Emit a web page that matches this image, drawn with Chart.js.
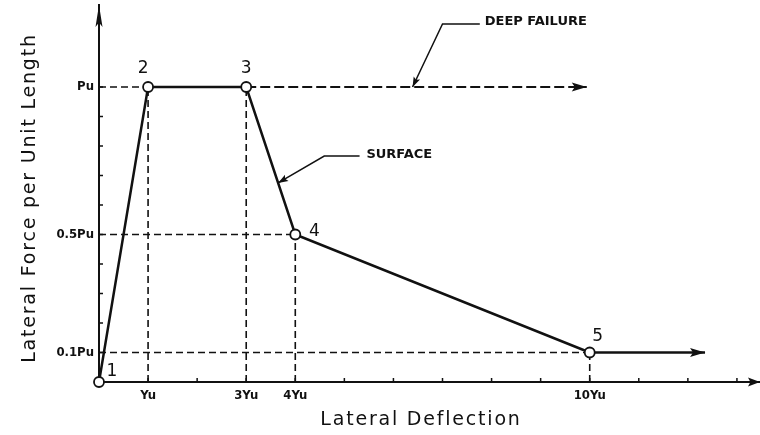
<!DOCTYPE html>
<html>
<head>
<meta charset="utf-8">
<title>Lateral Force vs Lateral Deflection</title>
<script src="https://cdn.jsdelivr.net/npm/chart.js@4.4.1/dist/chart.umd.min.js"></script>
<style>
  html, body { margin: 0; padding: 0; background: #fff; }
</style>
</head>
<body>
<canvas id="pyCurve" width="760" height="435"></canvas>
<script>
// p-y curve: deflection in multiples of Yu, force in multiples of Pu
const deflection = [0, 1, 3, 4, 10];
const force = [0, 1, 1, 0.5, 0.1];
const pointNames = ["1", "2", "3", "4", "5"];

// residual branch after point 5, deep failure plateau after point 3
const residualDeflection = [10, 12.35];
const residualForce = [0.1, 0.1];
const deepDeflection = [3, 9.94];
const deepForce = [1, 1];

// labelled ticks
const xTickValues = [1, 3, 4, 10];
const xTickText = ["Yu", "3Yu", "4Yu", "10Yu"];
const yTickValues = [0.1, 0.5, 1];
const yTickText = ["0.1Pu", "0.5Pu", "Pu"];

const INK = "#111";
const DASH = [7, 4];
const TICK_FONT = '"DejaVu Sans Condensed", "Liberation Sans Narrow", "DejaVu Sans", sans-serif';
const TEXT_FONT = '"DejaVu Sans", sans-serif';

function toPoints(xs, ys) {
  return xs.map((x, i) => ({ x: x, y: ys[i] }));
}

function labelFor(values, texts, value) {
  const i = values.findIndex((v) => Math.abs(v - value) < 1e-6);
  return i >= 0 ? texts[i] : "";
}

// dashed guides from both axes to points 2..5
const guides = [];
for (let i = 1; i < deflection.length; i++) {
  if (i !== 2) {
    guides.push(toPoints([0, deflection[i]], [force[i], force[i]]));
  }
  guides.push(toPoints([deflection[i], deflection[i]], [0, force[i]]));
}

// leader lines for the two callouts (tip first)
const surfaceLeader = toPoints([3.65, 4.59, 5.31], [0.675, 0.766, 0.766]);
const deepLeader = toPoints([6.39, 7.0, 7.76], [1.0, 1.214, 1.214]);
const callouts = [
  { text: "SURFACE", x: 5.45, y: 0.77 },
  { text: "DEEP FAILURE", x: 7.86, y: 1.22 },
];

// where each point number sits relative to its circle (px)
const nameOffsets = [[13, -10], [-5, -18], [0, -18], [19, -3], [8, -16]];

const datasets = [
  {
    label: "curve",
    data: toPoints(deflection, force),
    showLine: true,
    borderColor: INK,
    borderWidth: 2.5,
    pointRadius: 5,
    pointBorderWidth: 1.8,
    pointBorderColor: INK,
    pointBackgroundColor: "#fff",
    clip: false,
  },
  {
    label: "residual",
    data: toPoints(residualDeflection, residualForce),
    showLine: true,
    borderColor: INK,
    borderWidth: 2.5,
    pointRadius: 0,
    arrowAt: "end",
    clip: false,
  },
  {
    label: "deep",
    data: toPoints(deepDeflection, deepForce),
    showLine: true,
    borderColor: INK,
    borderWidth: 2,
    borderDash: [10, 4],
    pointRadius: 0,
    arrowAt: "end",
    clip: false,
  },
  {
    label: "surfaceLeader",
    data: surfaceLeader,
    showLine: true,
    borderColor: INK,
    borderWidth: 1.5,
    pointRadius: 0,
    arrowAt: "start",
    clip: false,
  },
  {
    label: "deepLeader",
    data: deepLeader,
    showLine: true,
    borderColor: INK,
    borderWidth: 1.5,
    pointRadius: 0,
    arrowAt: "start",
    clip: false,
  },
].concat(
  guides.map((g) => ({
    label: "guide",
    data: g,
    showLine: true,
    borderColor: INK,
    borderWidth: 1.6,
    borderDash: DASH,
    pointRadius: 0,
    clip: false,
  }))
);

function arrowHead(ctx, fx, fy, tx, ty, len, half) {
  const a = Math.atan2(ty - fy, tx - fx);
  ctx.save();
  ctx.translate(tx, ty);
  ctx.rotate(a);
  ctx.beginPath();
  ctx.moveTo(0, 0);
  ctx.lineTo(-len, -half);
  ctx.lineTo(-len * 0.8, 0);
  ctx.lineTo(-len, half);
  ctx.closePath();
  ctx.fill();
  ctx.restore();
}

const sketchPlugin = {
  id: "sketch",
  beforeDatasetsDraw(chart) {
    const ctx = chart.ctx;
    const { left, bottom } = chart.chartArea;
    const xs = chart.scales.x;
    const ys = chart.scales.y;
    ctx.save();
    ctx.strokeStyle = INK;
    ctx.lineWidth = 1.5;
    ctx.beginPath();
    xs.ticks.forEach((t) => {
      const px = xs.getPixelForValue(t.value);
      ctx.moveTo(px, bottom);
      ctx.lineTo(px, bottom - 4);
    });
    ys.ticks.forEach((t) => {
      const py = ys.getPixelForValue(t.value);
      ctx.moveTo(left, py);
      ctx.lineTo(left + 4, py);
    });
    ctx.stroke();
    ctx.restore();
  },
  afterDatasetsDraw(chart) {
    const ctx = chart.ctx;
    const xs = chart.scales.x;
    const ys = chart.scales.y;
    ctx.save();
    ctx.fillStyle = INK;

    // arrowheads on flagged datasets
    chart.data.datasets.forEach((ds, i) => {
      if (!ds.arrowAt) return;
      const pts = chart.getDatasetMeta(i).data;
      const n = pts.length;
      if (ds.arrowAt === "end") {
        arrowHead(ctx, pts[n - 2].x, pts[n - 2].y, pts[n - 1].x, pts[n - 1].y, 15, 4.5);
      } else {
        arrowHead(ctx, pts[1].x, pts[1].y, pts[0].x, pts[0].y, 10, 3.5);
      }
    });

    // point numbers
    const curve = chart.getDatasetMeta(0).data;
    ctx.font = "17px " + TEXT_FONT;
    ctx.textAlign = "center";
    ctx.textBaseline = "middle";
    curve.forEach((p, i) => {
      ctx.fillText(pointNames[i], p.x + nameOffsets[i][0], p.y + nameOffsets[i][1]);
    });

    // callout texts
    ctx.font = "bold 13px " + TEXT_FONT;
    ctx.textAlign = "left";
    callouts.forEach((c) => {
      ctx.fillText(c.text, xs.getPixelForValue(c.x), ys.getPixelForValue(c.y));
    });
    ctx.restore();
  },
  afterDraw(chart) {
    const ctx = chart.ctx;
    const { left, right, top, bottom } = chart.chartArea;
    ctx.save();
    ctx.fillStyle = INK;
    // axis arrows
    arrowHead(ctx, left, bottom, left, top, 22, 3.5);
    arrowHead(ctx, left, bottom, right, bottom, 12, 4.5);

    // axis titles
    ctx.font = "19px " + TEXT_FONT;
    ctx.letterSpacing = "1.8px";
    ctx.textAlign = "center";
    ctx.textBaseline = "middle";
    ctx.fillText("Lateral Deflection", 421, 420);
    ctx.translate(30, 198);
    ctx.rotate(-Math.PI / 2);
    ctx.fillText("Lateral Force per Unit Length", 0, 0);
    ctx.restore();
  },
};

new Chart(document.getElementById("pyCurve"), {
  type: "scatter",
  data: { datasets: datasets },
  options: {
    responsive: false,
    devicePixelRatio: 1,
    animation: false,
    events: [],
    layout: { autoPadding: false, padding: { top: 5, right: 0, bottom: 0, left: 0 } },
    plugins: {
      legend: { display: false },
      tooltip: { enabled: false },
    },
    scales: {
      x: {
        type: "linear",
        min: 0,
        max: 13.47,
        afterBuildTicks: (scale) => {
          const ticks = [];
          for (let v = 1; v <= 13; v++) ticks.push({ value: v });
          scale.ticks = ticks;
        },
        afterFit: (scale) => {
          scale.height = 53;
          // axes run right to the canvas edge
          scale.paddingLeft = 0;
          scale.paddingRight = 0;
        },
        grid: { display: false, drawTicks: false },
        border: { display: true, color: INK, width: 2 },
        ticks: {
          autoSkip: false,
          maxRotation: 0,
          padding: 6,
          color: INK,
          font: { family: TICK_FONT, size: 13, weight: "bold" },
          callback: (value) => labelFor(xTickValues, xTickText, value),
        },
      },
      y: {
        type: "linear",
        min: 0,
        max: 1.278,
        afterBuildTicks: (scale) => {
          const ticks = [];
          for (let k = 1; k <= 10; k++) ticks.push({ value: k / 10 });
          scale.ticks = ticks;
        },
        afterFit: (scale) => {
          scale.width = 99;
          scale.paddingTop = 0;
          scale.paddingBottom = 0;
        },
        grid: { display: false, drawTicks: false },
        border: { display: true, color: INK, width: 2 },
        ticks: {
          autoSkip: false,
          padding: 5,
          color: INK,
          font: { family: TICK_FONT, size: 13, weight: "bold" },
          callback: (value) => labelFor(yTickValues, yTickText, value),
        },
      },
    },
  },
  plugins: [sketchPlugin],
});
</script>
</body>
</html>
